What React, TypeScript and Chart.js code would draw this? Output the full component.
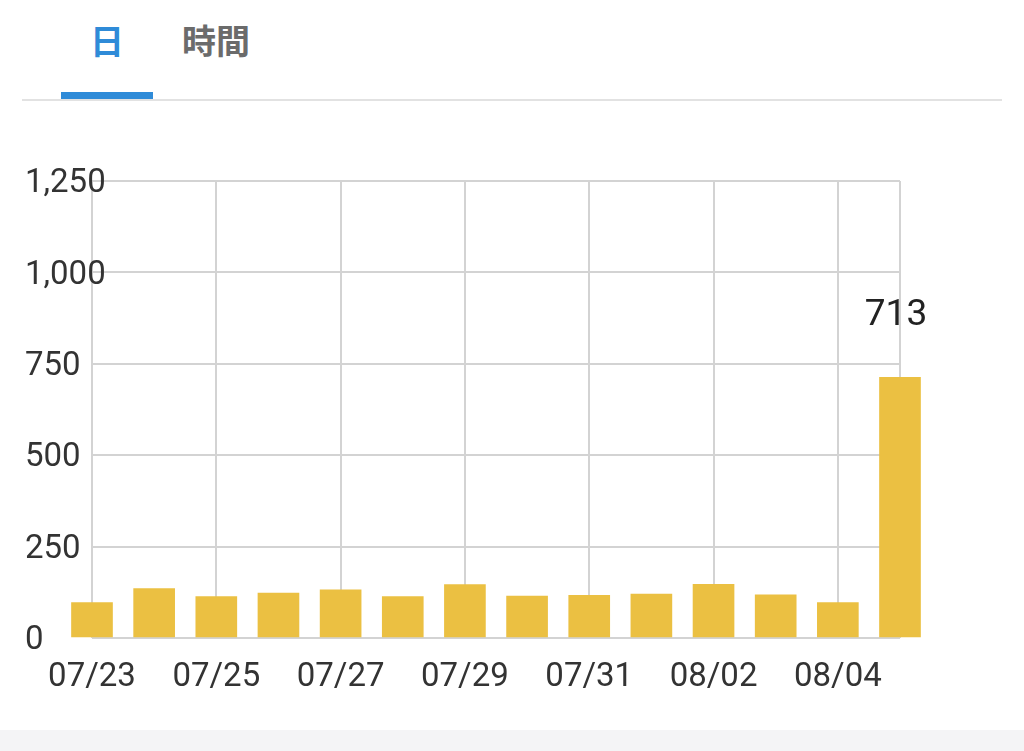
import { Chart, registerables, Plugin } from 'chart.js'
import React, { useEffect, useRef } from 'react'

Chart.register(...registerables)

// daily page views, 07/23 .. 08/05
const days = [
  '07/23', '07/24', '07/25', '07/26', '07/27', '07/28', '07/29',
  '07/30', '07/31', '08/01', '08/02', '08/03', '08/04', '08/05',
]
const views = [97, 135, 113, 123, 132, 113, 146, 115, 117, 120, 147, 118, 97, 713]
const yTicks = [0, 250, 500, 750, 1000, 1250]

const GRID = '#d3d3d3'
const BAR = '#ebc042'
const FONT = 'Roboto, "Liberation Sans", sans-serif'

// draws the value above the highest bar
const peakLabel: Plugin<'bar'> = {
  id: 'peakLabel',
  afterDatasetsDraw(chart) {
    const meta = chart.getDatasetMeta(0)
    const vals = chart.data.datasets[0].data as number[]
    const peak = vals.indexOf(Math.max(...vals))
    const bar = meta.data[peak]
    if (!bar) return
    const { ctx } = chart
    ctx.save()
    ctx.font = `37px ${FONT}`
    ctx.fillStyle = '#222'
    ctx.textAlign = 'center'
    ctx.textBaseline = 'alphabetic'
    ctx.fillText(String(vals[peak]), bar.x - 4, bar.y - 52)
    ctx.restore()
  },
}

const ViewsChart: React.FC = () => {
  const canvasRef = useRef<HTMLCanvasElement>(null)
  const chartRef = useRef<Chart<'bar'> | null>(null)

  useEffect(() => {
    if (!canvasRef.current) return
    chartRef.current = new Chart(canvasRef.current, {
      type: 'bar',
      data: {
        labels: days,
        datasets: [
          {
            data: views,
            backgroundColor: BAR,
            barThickness: 41,
            clip: false,
          },
        ],
      },
      options: {
        animation: false,
        responsive: true,
        maintainAspectRatio: false,
        layout: { padding: { left: 25, right: 124, top: 41, bottom: 0 } },
        plugins: {
          legend: { display: false },
          tooltip: { enabled: false },
        },
        scales: {
          x: {
            offset: false,
            border: { display: false },
            grid: {
              offset: false,
              drawTicks: false,
              lineWidth: 2,
              color: (ctx) =>
                ctx.index % 2 === 0 || ctx.index === days.length - 1 ? GRID : 'transparent',
            },
            ticks: {
              autoSkip: false,
              maxRotation: 0,
              padding: 20,
              color: '#333',
              font: { family: FONT, size: 33 },
              callback: (_v, i) => (i % 2 === 0 && i < days.length - 1 ? days[i] : ''),
            },
            afterFit: (scale) => {
              scale.height = 92
            },
          },
          y: {
            min: yTicks[0],
            max: yTicks[yTicks.length - 1],
            border: { display: false },
            grid: { drawTicks: false, lineWidth: 2, color: GRID },
            afterBuildTicks: (scale) => {
              scale.ticks = yTicks.map((v) => ({ value: v }))
            },
            ticks: {
              // mirrored so the labels are not clipped to the narrow axis box
              mirror: true,
              crossAlign: 'near',
              padding: -67,
              labelOffset: 3,
              color: '#333',
              font: { family: FONT, size: 33 },
              callback: (v) => Number(v).toLocaleString('en-US'),
            },
            afterFit: (scale) => {
              scale.width = 67
            },
          },
        },
      },
      plugins: [peakLabel],
    })
    return () => {
      chartRef.current?.destroy()
      chartRef.current = null
    }
  }, [])

  return (
    <div style={{ position: 'absolute', left: 0, top: 140, width: 1024, height: 590 }}>
      <canvas ref={canvasRef} />
    </div>
  )
}

export default function App() {
  return (
    <div
      style={{
        position: 'absolute',
        left: 0,
        top: 0,
        width: 1024,
        height: 751,
        background: '#fff',
        overflow: 'hidden',
        fontFamily: '"Noto Sans CJK JP", sans-serif',
      }}
    >
      {/* tabs */}
      <div
        style={{
          position: 'absolute', left: 61, top: 23, width: 92, height: 34,
          lineHeight: '34px', fontSize: 34, fontWeight: 700, textAlign: 'center', color: '#2f8bd8',
        }}
      >
        日
      </div>
      <div
        style={{
          position: 'absolute', left: 170, top: 23, width: 92, height: 34,
          lineHeight: '34px', fontSize: 34, fontWeight: 700, textAlign: 'center', color: '#6b6b6b',
        }}
      >
        時間
      </div>
      <div style={{ position: 'absolute', left: 22, top: 99, width: 980, height: 2, background: '#e2e2e2' }} />
      <div style={{ position: 'absolute', left: 61, top: 92, width: 92, height: 7, background: '#2f8bd8' }} />

      <ViewsChart />

      <div style={{ position: 'absolute', left: 0, top: 730, width: 1024, height: 21, background: '#f4f4f6' }} />
    </div>
  )
}
